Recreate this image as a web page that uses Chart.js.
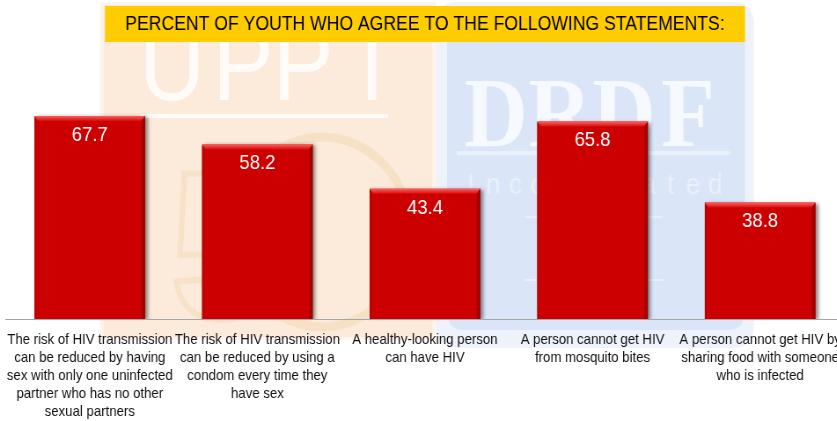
<!DOCTYPE html>
<html>
<head>
<meta charset="utf-8">
<script src="https://cdn.jsdelivr.net/npm/chart.js@4.4.1/dist/chart.umd.min.js"></script>
<style>
  html, body { margin: 0; padding: 0; width: 837px; height: 421px; overflow: hidden; background: #ffffff; }
  #c { position: absolute; left: 0; top: 0; transform: scaleX(0.88); transform-origin: 0 0; }
</style>
</head>
<body>
<canvas id="c" width="960" height="421"></canvas>
<script>
// ---- data ----
const titleText = "PERCENT OF YOUTH WHO AGREE TO THE FOLLOWING STATEMENTS:";
const categories = [
  ["The risk of HIV transmission", "can be reduced by having", "sex with only one uninfected", "partner who has no other", "sexual partners"],
  ["The risk of HIV transmission", "can be reduced by using a", "condom every time they", "have sex"],
  ["A healthy-looking person", "can have HIV"],
  ["A person cannot get HIV", "from mosquito bites"],
  ["A person cannot get HIV by", "sharing food with someone", "who is infected"]
];
const values = [67.7, 58.2, 43.4, 65.8, 38.8];

// ---- helpers (page is horizontally condensed by K) ----
const K = 0.88;
const L = x => x / K;
const FONT = '"Liberation Sans", Arial, sans-serif';

function roundRect(ctx, x, y, w, h, r) {
  ctx.beginPath();
  ctx.moveTo(x + r, y);
  ctx.lineTo(x + w - r, y);
  ctx.quadraticCurveTo(x + w, y, x + w, y + r);
  ctx.lineTo(x + w, y + h - r);
  ctx.quadraticCurveTo(x + w, y + h, x + w - r, y + h);
  ctx.lineTo(x + r, y + h);
  ctx.quadraticCurveTo(x, y + h, x, y + h - r);
  ctx.lineTo(x, y + r);
  ctx.quadraticCurveTo(x, y, x + r, y);
  ctx.closePath();
}

const backdrop = {
  id: 'backdrop',
  beforeDraw(chart) {
    const ctx = chart.ctx;
    ctx.save();
    ctx.fillStyle = '#ffffff';
    ctx.fillRect(0, 0, chart.width, chart.height);

    // orange watermark panel
    ctx.fillStyle = '#fdf4ec';
    ctx.fillRect(L(100), 2, L(336), 338);
    ctx.fillStyle = '#fcebdb';
    ctx.fillRect(L(104), 5, L(328), 332);
    // "5" and ring
    ctx.strokeStyle = 'rgba(228,190,120,0.22)';
    ctx.lineWidth = 9;
    ctx.beginPath();
    ctx.ellipse(L(322), 232, L(88), 95, 0, 0, Math.PI * 2);
    ctx.stroke();
    ctx.font = 'bold 210px ' + FONT;
    ctx.textAlign = 'center';
    ctx.textBaseline = 'alphabetic';
    ctx.lineWidth = 6;
    ctx.strokeStyle = 'rgba(228,190,120,0.2)';
    ctx.strokeText('5', L(222), 318);
    // UPPI letters
    ctx.fillStyle = 'rgba(255,255,255,0.8)';
    ctx.font = '104px ' + FONT;
    [['U', 172], ['P', 243], ['P', 303], ['I', 372]].forEach(([ch, x]) => ctx.fillText(ch, L(x), 100));
    ctx.fillRect(L(140), 114, L(248), 4);

    // blue watermark panel
    ctx.fillStyle = '#eef3fb';
    roundRect(ctx, L(436), 2, L(318), 346, 24);
    ctx.fill();
    ctx.fillStyle = '#dae5f8';
    roundRect(ctx, L(447), 10, L(298), 320, 20);
    ctx.fill();
    ctx.fillStyle = 'rgba(255,255,255,0.75)';
    ctx.font = 'bold 100px "Liberation Serif", "DejaVu Serif", serif';
    ['D', 'R', 'D', 'F'].forEach((ch, i) => ctx.fillText(ch, L(496 + i * 64), 146));
    ctx.fillStyle = 'rgba(255,255,255,0.45)';
    ctx.fillRect(L(457), 151, L(273), 4);
    ctx.font = '30px ' + FONT;
    ctx.fillStyle = 'rgba(255,255,255,0.4)';
    'Incorporated'.split('').forEach((ch, i) => ctx.fillText(ch, L(471 + i * 22.2), 194));
    ctx.fillRect(L(525), 216, L(18), 2);
    ctx.fillRect(L(645), 216, L(18), 2);
    ctx.fillRect(L(525), 279, L(18), 2);
    ctx.fillRect(L(645), 279, L(18), 2);

    // title box
    ctx.fillStyle = '#ffcc00';
    ctx.fillRect(L(105), 6, L(640), 36);
    ctx.restore();
  },
  beforeDatasetsDraw(chart) {
    const ctx = chart.ctx;
    ctx.save();
    ctx.shadowColor = 'rgba(0,0,0,0.45)';
    ctx.shadowBlur = 4;
    ctx.shadowOffsetX = 3;
    ctx.shadowOffsetY = 1;
  },
  afterDatasetsDraw(chart) {
    const ctx = chart.ctx;
    ctx.restore();
    const meta = chart.getDatasetMeta(0);
    meta.data.forEach((bar, i) => {
      const left = bar.x - bar.width / 2, right = bar.x + bar.width / 2;
      const top = bar.y, base = bar.base;
      const b = 4, h = 5;
      ctx.save();
      const g = ctx.createLinearGradient(0, top, 0, top + h);
      g.addColorStop(0, '#ff6060');
      g.addColorStop(1, '#d80c0c');
      ctx.fillStyle = g;
      ctx.beginPath();
      ctx.moveTo(left, top); ctx.lineTo(right, top); ctx.lineTo(right - b, top + h); ctx.lineTo(left + b, top + h);
      ctx.closePath(); ctx.fill();
      ctx.fillStyle = '#a00000';
      ctx.beginPath();
      ctx.moveTo(right, top); ctx.lineTo(right, base); ctx.lineTo(right - b, base); ctx.lineTo(right - b, top + h);
      ctx.closePath(); ctx.fill();
      ctx.fillStyle = '#b80404';
      ctx.beginPath();
      ctx.moveTo(left, top); ctx.lineTo(left + 2, top + h); ctx.lineTo(left + 2, base); ctx.lineTo(left, base);
      ctx.closePath(); ctx.fill();
      ctx.fillStyle = '#ffffff';
      ctx.font = '21px ' + FONT;
      ctx.textAlign = 'center';
      ctx.textBaseline = 'middle';
      ctx.fillText(values[i].toFixed(1), bar.x, top + 19);
      ctx.restore();
    });
  }
};

new Chart(document.getElementById('c'), {
  type: 'bar',
  data: {
    labels: categories,
    datasets: [{
      data: values,
      backgroundColor: '#cc0000',
      borderWidth: 0,
      barPercentage: 0.66,
      categoryPercentage: 1.0
    }]
  },
  options: {
    responsive: false,
    animation: false,
    events: [],
    layout: { padding: { left: L(6), right: 1, top: 0, bottom: 0 } },
    plugins: {
      legend: { display: false },
      tooltip: { enabled: false },
      title: {
        display: true,
        text: titleText,
        color: '#000000',
        font: { family: FONT, size: 20, weight: 'normal', lineHeight: 1.2 },
        padding: { top: 12, bottom: 43 }
      }
    },
    scales: {
      y: { display: false, min: 0, max: 80 },
      x: {
        grid: { display: false, drawTicks: false },
        border: { display: true, color: '#a6a6a6', width: 1 },
        ticks: {
          color: '#111111',
          font: { family: FONT, size: 15, lineHeight: 1.2 },
          padding: 12,
          maxRotation: 0,
          autoSkip: false
        },
        afterFit(scale) {
          scale.height = 102;
          scale.paddingLeft = 0;
          scale.paddingRight = 0;
        }
      }
    }
  },
  plugins: [backdrop]
});
</script>
</body>
</html>
